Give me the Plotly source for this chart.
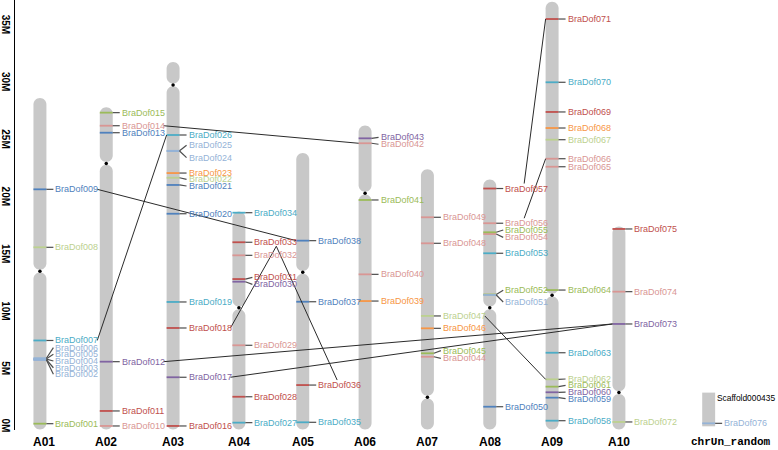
import plotly.graph_objects as go

# ---------------- data ----------------
chromosomes = ["A01", "A02", "A03", "A04", "A05", "A06", "A07", "A08", "A09", "A10", "chrUn_random"]
chrom_length_mb = [28.7, 27.9, 31.85, 18.8, 23.9, 26.3, 22.5, 21.6, 37.1, 17.5, 3.0]
centromere_mb = [13.6, 23.0, 29.85, 10.4, 13.5, 20.4, 2.6, 10.4, 11.5, 3.0, None]

gene_names = ["BraDof%03d" % i for i in range(1, 77)]
gene_chrom = (["A01"] * 9 + ["A02"] * 6 + ["A03"] * 11 + ["A04"] * 8 + ["A05"] * 4 +
              ["A06"] * 5 + ["A07"] * 6 + ["A08"] * 8 + ["A09"] * 14 + ["A10"] * 4 + ["chrUn_random"])
gene_pos_mb = [
    0.29, 5.85, 5.88, 5.92, 5.96, 6.00, 7.55, 15.68, 20.74,          # A01
    0.09, 1.40, 5.70, 25.68, 26.29, 27.43,                          # A02
    0.09, 4.34, 8.64, 10.91, 18.61, 21.12, 21.75, 22.16, 24.08, 24.10, 25.48,  # A03
    0.38, 2.64, 7.13, 12.68, 12.91, 14.98, 16.12, 18.70,            # A04
    0.41, 3.66, 10.93, 16.26,                                       # A05
    10.99, 13.32, 19.81, 24.76, 25.19,                              # A06
    6.13, 6.43, 8.61, 9.69, 16.03, 18.30,                           # A07
    1.77, 11.52, 11.56, 15.16, 16.84, 16.99, 17.78, 20.81,          # A08
    0.55, 2.56, 3.03, 3.52, 4.16, 6.48, 11.95, 22.71, 23.41, 25.07, 26.09, 27.49, 30.08, 35.60,  # A09
    0.44, 8.99, 11.81, 17.28,                                       # A10
    0.32,                                                           # chrUn
]
label_pos_mb = [
    0.29, 4.60, 5.17, 5.76, 6.34, 6.92, 7.55, 15.68, 20.74,
    0.09, 1.40, 5.70, 25.68, 26.29, 27.43,
    0.09, 4.34, 8.64, 10.91, 18.61, 21.03, 21.61, 22.16, 23.50, 24.58, 25.48,
    0.38, 2.64, 7.13, 12.45, 13.06, 14.98, 16.12, 18.70,
    0.41, 3.66, 10.93, 16.26,
    10.99, 13.32, 19.81, 24.67, 25.28,
    5.99, 6.66, 8.61, 9.69, 16.03, 18.30,
    1.77, 10.91, 11.93, 15.16, 16.55, 17.19, 17.78, 20.81,
    0.55, 2.47, 3.05, 3.64, 4.19, 6.48, 11.95, 22.71, 23.41, 25.07, 26.09, 27.49, 30.08, 35.60,
    0.44, 8.99, 11.81, 17.28,
    0.32,
]
gene_group = [
    "green", "lblue", "lblue", "lblue", "lblue", "lblue", "teal", "lgreen", "blue",
    "pink", "red", "purple", "blue", "pink", "green",
    "red", "purple", "red", "teal", "blue", "blue", "lgreen", "orange", "lblue", "lblue", "teal",
    "teal", "red", "pink", "purple", "red", "pink", "red", "teal",
    "teal", "red", "blue", "blue",
    "orange", "pink", "green", "pink", "purple",
    "pink", "green", "orange", "lgreen", "pink", "pink",
    "blue", "lblue", "green", "teal", "pink", "green", "pink", "red",
    "teal", "blue", "purple", "green", "lgreen", "teal", "green", "pink", "pink", "lgreen", "orange", "red", "teal", "red",
    "lgreen", "purple", "pink", "red",
    "lblue",
]

# duplicated pairs (segmental duplications)
dup_gene_a = ["BraDof009", "BraDof014", "BraDof007", "BraDof012", "BraDof017",
              "BraDof018", "BraDof033", "BraDof047", "BraDof057", "BraDof056"]
dup_gene_b = ["BraDof038", "BraDof042", "BraDof026", "BraDof073", "BraDof073",
              "BraDof033", "BraDof036", "BraDof062", "BraDof071", "BraDof066"]
dup_anchor_a = ["end", "end", "end", "end", "end", "end", "bot", "end", "top", "top"]
dup_anchor_b = ["bar", "bar", "bar", "bar", "bar", "bot", "top", "bar", "bar", "bar"]

ytick_vals = [0, 5, 10, 15, 20, 25, 30, 35]
ytick_text = ["0M", "5M", "10M", "15M", "20M", "25M", "30M", "35M"]

scaffold_name = "Scaffold000435"

# ---------------- layout / style constants ----------------
W, H = 778, 450
ML, MB = 13, 20
PX = 11.46            # pixels per Mb
Y0_PX = 427           # pixel row of 0 Mb
CHR_X = [38, 104.5, 171.5, 237.5, 301.5, 364, 426.5, 489, 551.5, 618.5, 708.5]
XLAB_DX = [4, 0, 0, 0, 0, 0, 0, 0, 0, 0, 22]
HW = 6.5              # bar half width (px)
GAP = 0.12            # centromere half gap (Mb)
BOTTOM = -0.22
LABEL_GAP = 8
LABEL_W = 43
BAR_COLOR = "#c8c8c8"
CONNECT_COLOR = "#4d4d4d"
DUP_COLOR = "#2b2b2b"
PALETTE = {
    "red": "#c0504d", "pink": "#d99694", "green": "#9bbb59", "lgreen": "#bcd18f",
    "blue": "#4f81bd", "lblue": "#95b3d7", "teal": "#4bacc6", "purple": "#8064a2",
    "orange": "#f79646",
}

plot_h = H - MB
y_span = plot_h / PX
y_min = -(plot_h - Y0_PX) / PX
y_max = y_min + y_span

chr_index = {c: i for i, c in enumerate(chromosomes)}
gene_index = {g: i for i, g in enumerate(gene_names)}


def pill(c, y0, y1):
    rx, ry, k = HW, HW / PX, 0.5523
    xl, xr = c - rx, c + rx
    return (f"M {xl},{y0 + ry} L {xl},{y1 - ry} "
            f"C {xl},{y1 - ry + k * ry} {c - k * rx},{y1} {c},{y1} "
            f"C {c + k * rx},{y1} {xr},{y1 - ry + k * ry} {xr},{y1 - ry} "
            f"L {xr},{y0 + ry} "
            f"C {xr},{y0 + ry - k * ry} {c + k * rx},{y0} {c},{y0} "
            f"C {c - k * rx},{y0} {xl},{y0 + ry - k * ry} {xl},{y0 + ry} Z")


shapes = []
cen_x, cen_y = [], []
for i, name in enumerate(chromosomes):
    c = CHR_X[i]
    L = chrom_length_mb[i]
    cen = centromere_mb[i]
    if cen is None:
        shapes.append(dict(type="rect", xref="x", yref="y", x0=c - HW, x1=c + HW,
                           y0=0.06, y1=L, fillcolor=BAR_COLOR, line=dict(width=0), layer="below"))
    else:
        shapes.append(dict(type="path", xref="x", yref="y", path=pill(c, BOTTOM, cen - GAP),
                           fillcolor=BAR_COLOR, line=dict(width=0), layer="below"))
        shapes.append(dict(type="path", xref="x", yref="y", path=pill(c, cen + GAP, L),
                           fillcolor=BAR_COLOR, line=dict(width=0), layer="below"))
        cen_x.append(c)
        cen_y.append(cen)

fig = go.Figure()

# gene marks on the chromosomes, by colour
for grp, col in PALETTE.items():
    xs, ys = [], []
    for i, g in enumerate(gene_names):
        if gene_group[i] != grp:
            continue
        c = CHR_X[chr_index[gene_chrom[i]]]
        xs += [c - HW, c + HW, None]
        ys += [gene_pos_mb[i], gene_pos_mb[i], None]
    fig.add_trace(go.Scatter(x=xs, y=ys, mode="lines", line=dict(color=col, width=1.8),
                             hoverinfo="skip", showlegend=False))

# connectors from chromosome to label
cx, cy = [], []
for i, g in enumerate(gene_names):
    c = CHR_X[chr_index[gene_chrom[i]]]
    cx += [c + HW, c + HW + LABEL_GAP - 1, None]
    cy += [gene_pos_mb[i], label_pos_mb[i], None]
fig.add_trace(go.Scatter(x=cx, y=cy, mode="lines", line=dict(color=CONNECT_COLOR, width=1.2),
                         hoverinfo="skip", showlegend=False))


def anchor(g, kind):
    i = gene_index[g]
    c = CHR_X[chr_index[gene_chrom[i]]]
    lx = c + HW + LABEL_GAP
    if kind == "end":
        return lx + LABEL_W, label_pos_mb[i]
    if kind == "bar":
        return c - HW, gene_pos_mb[i]
    if kind == "top":
        return lx + 20, label_pos_mb[i] + 5 / PX
    return lx + 23, label_pos_mb[i] - 4 / PX


dx, dy = [], []
for a, b, ka, kb in zip(dup_gene_a, dup_gene_b, dup_anchor_a, dup_anchor_b):
    xa, ya = anchor(a, ka)
    xb, yb = anchor(b, kb)
    dx += [xa, xb, None]
    dy += [ya, yb, None]
fig.add_trace(go.Scatter(x=dx, y=dy, mode="lines", line=dict(color=DUP_COLOR, width=1),
                         hoverinfo="skip", showlegend=False))

# centromere dots
fig.add_trace(go.Scatter(x=cen_x, y=cen_y, mode="markers", marker=dict(color="black", size=3.5),
                         hoverinfo="skip", showlegend=False))

annotations = []
for i, g in enumerate(gene_names):
    c = CHR_X[chr_index[gene_chrom[i]]]
    annotations.append(dict(x=c + HW + LABEL_GAP - 1, y=label_pos_mb[i], xref="x", yref="y",
                            text=g, showarrow=False, xanchor="left", yanchor="middle",
                            font=dict(family="Liberation Sans", size=9, color=PALETTE[gene_group[i]])))

for i, name in enumerate(chromosomes):
    mono = name == "chrUn_random"
    annotations.append(dict(x=CHR_X[i] + XLAB_DX[i], y=-12 / plot_h, xref="x", yref="paper",
                            text=name, showarrow=False, xanchor="center", yanchor="middle",
                            font=dict(family="Liberation Mono" if mono else "Liberation Sans",
                                      size=11 if mono else 12, color="black", weight="bold")))

iu = chr_index["chrUn_random"]
annotations.append(dict(x=CHR_X[iu] + HW, y=chrom_length_mb[iu] - 0.45, xref="x", yref="y",
                        text=scaffold_name, showarrow=False, xanchor="left", yanchor="middle",
                        font=dict(family="Liberation Sans", size=8.4, color="black")))

fig.update_layout(
    width=W, height=H,
    margin=dict(l=ML, r=0, t=0, b=MB, pad=0),
    paper_bgcolor="white", plot_bgcolor="white",
    shapes=shapes, annotations=annotations,
    showlegend=False,
    xaxis=dict(range=[ML, W], visible=False, fixedrange=True),
    yaxis=dict(range=[y_min, y_max], showgrid=False, zeroline=False, showline=True,
               linecolor="black", linewidth=1, ticks="", tickvals=ytick_vals, ticktext=ytick_text,
               tickangle=90, tickfont=dict(family="Liberation Sans", size=10, color="black", weight="bold"),
               fixedrange=True),
)

fig.write_html("out.html", config={"displayModeBar": False},
               post_script="document.body.style.margin='0';document.body.style.overflow='hidden';")
